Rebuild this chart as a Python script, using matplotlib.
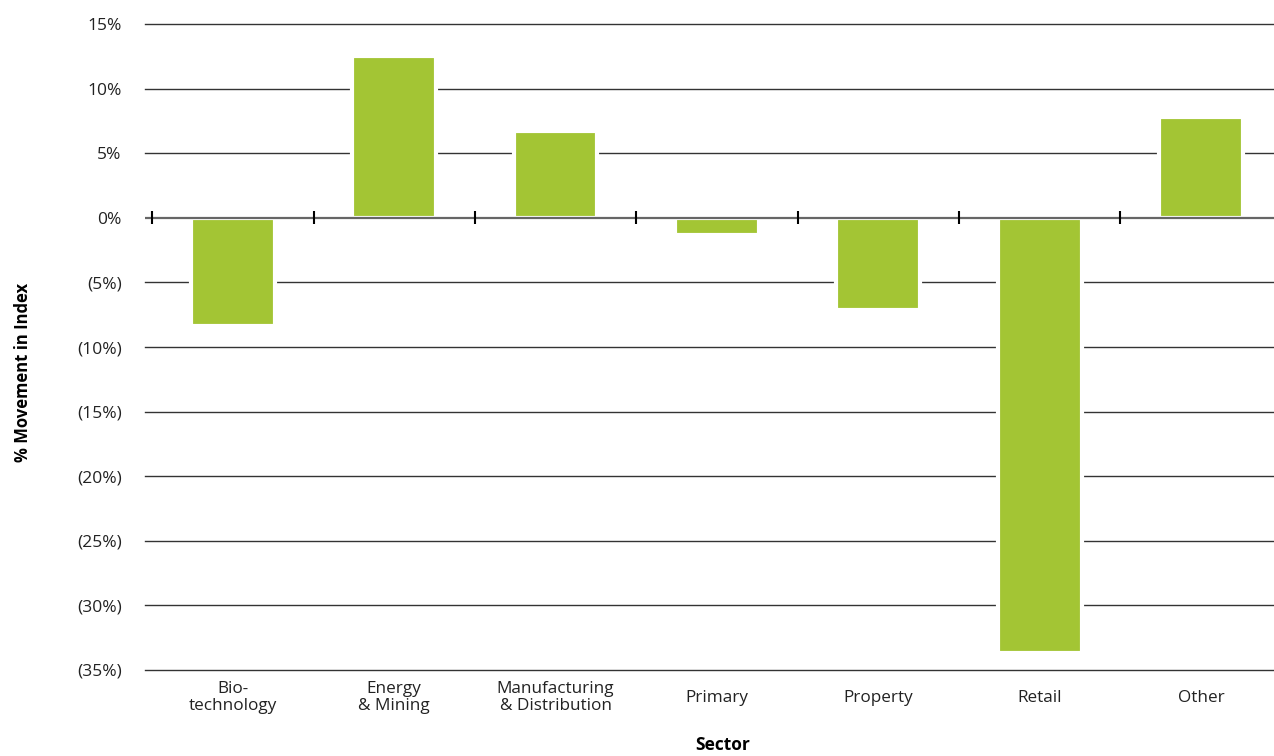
import numpy as np
import matplotlib.pyplot as plt

# sector movement in index (%)
sectors = ["Bio-\ntechnology", "Energy\n& Mining", "Manufacturing\n& Distribution",
           "Primary", "Property", "Retail", "Other"]
movement = [-8.4, 12.5, 6.7, -1.3, -7.1, -33.7, 7.8]
y_ticks = [15, 10, 5, 0, -5, -10, -15, -20, -25, -30, -35]

def pct_label(v):  # negatives shown in brackets
    return "(%d%%)" % abs(v) if v < 0 else "%d%%" % v

plt.rcParams['font.family'] = ['Open Sans', 'DejaVu Sans']

fig = plt.figure(figsize=(12.74, 7.56), dpi=100)
ax = fig.add_axes([0.114, 0.114, 0.886, 0.854])

x = np.arange(len(sectors))

# grid lines behind the bars
for v in y_ticks:
    if v != 0:
        ax.axhline(v, color="#333333", lw=1.0, zorder=1, clip_on=False)

ax.bar(x, movement, width=0.52, color="#A3C534", edgecolor="white", linewidth=3, zorder=2)

# zero line with category dividers
ax.axhline(0, color="#666666", lw=1.6, zorder=3)
ax.vlines(x - 0.5, -0.5, 0.5, color="black", lw=1.5, zorder=4)

ax.set_xlim(-0.543, len(sectors) - 1 + 0.453)
ax.set_ylim(-35, 15)
ax.set_yticks(y_ticks)
ax.set_yticklabels([pct_label(v) for v in y_ticks], fontsize=12.5, color="#222222")
ax.tick_params(axis="y", length=0, pad=17)
ax.set_xticks(x)
ax.set_xticklabels(sectors, fontsize=12.3, color="#222222", linespacing=1.08, va="center")
ax.tick_params(axis="x", length=0, pad=20)

for s in ax.spines.values():
    s.set_visible(False)

fig.text(0.018, 0.508, "% Movement in Index", fontsize=12, fontweight="bold",
         rotation=90, ha="center", va="center")
fig.text(0.567, 0.0145, "Sector", fontsize=12.5, fontweight="bold", ha="center", va="center")

fig.savefig("out.png", dpi=100)
